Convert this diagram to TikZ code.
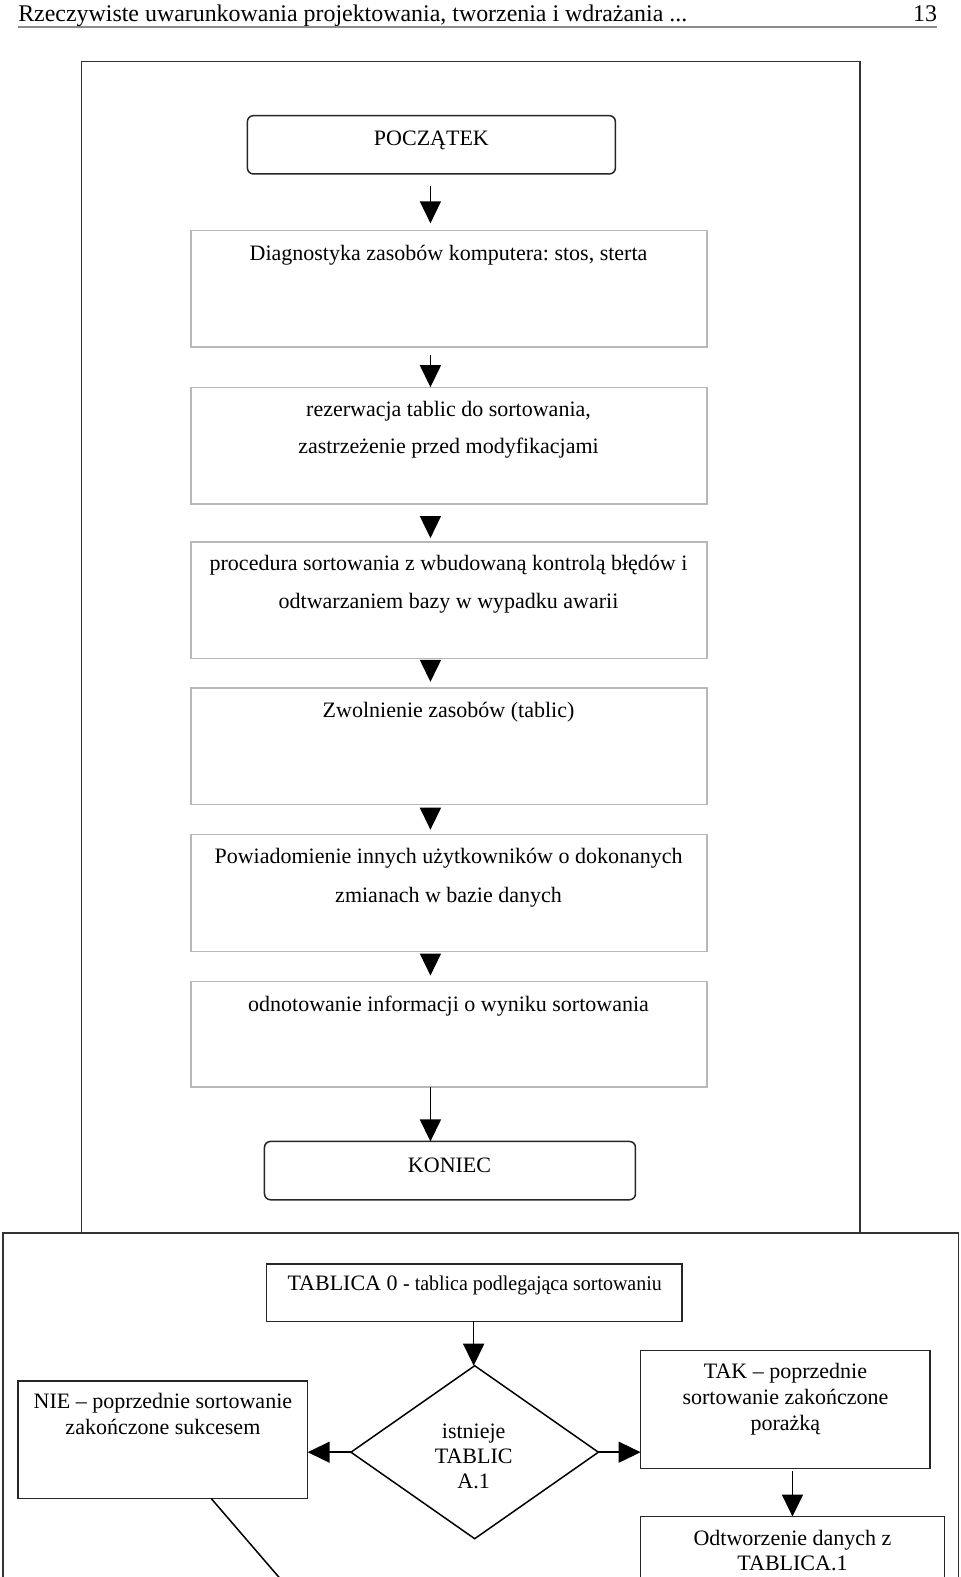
\documentclass[tikz,border=0pt]{standalone}
\usepackage{fontspec}
\setmainfont{Liberation Serif}
\usetikzlibrary{arrows.meta,shapes.geometric}
\frenchspacing
\begin{document}
\begin{tikzpicture}[x=1.0057bp,y=-1.0057bp,
  light/.style={draw=black!28, line width=1.3bp, inner sep=0pt, outer sep=0pt, anchor=north west},
  dark/.style={draw=black!85, line width=1.5bp, inner sep=0pt, outer sep=0pt, anchor=north west},
  roundbox/.style={dark, rounded corners=6bp},
  txt/.style={font=\fontsize{22bp}{26bp}\selectfont, inner sep=0pt, anchor=base},
  arr/.style={line width=1.5bp, -{Triangle[length=22bp,width=21bp]}},
  frame/.style={draw=black!80, line width=1.6bp},
]
\useasboundingbox (0,0) rectangle (954.6,1568.1);
\clip (0,0) rectangle (954.6,1568.1);
\fill[white] (0,0) rectangle (954.6,1568.1);
% header
\node[inner sep=0pt, anchor=base west, font=\fontsize{23.9bp}{27bp}\selectfont] (head) at (18,21) {Rzeczywiste uwarunkowania projektowania, tworzenia i wdrażania ...};
\node[inner sep=0pt, anchor=base east, font=\fontsize{23.9bp}{27bp}\selectfont] (pg) at (932,21) {13};
\draw[draw=black!45, line width=1.5bp] (18,27) -- (932,27);
% frames
\draw[frame] (81,1226) -- (81,61) -- (855,61) -- (855,1226);
\draw[frame] (3,1640) -- (3,1226) -- (953,1226) -- (953,1640);
% upper flow
\node[roundbox, minimum width=368bp, minimum height=58.3bp] (start) at (246,115) {};
\node[txt] (tstart) at (429,145) {POCZĄTEK};
\node[light, minimum width=516bp, minimum height=116.7bp] (b1) at (190,229) {};
\node[txt] (t1) at (446,259) {Diagnostyka zasobów komputera: stos, sterta};
\node[light, minimum width=516bp, minimum height=116.7bp] (b2) at (190,385) {};
\node[txt] (t2a) at (446,414) {rezerwacja tablic do sortowania,};
\node[txt] (t2b) at (446,451) {zastrzeżenie przed modyfikacjami};
\node[light, minimum width=516bp, minimum height=116.7bp] (b3) at (190,539) {};
\node[txt] (t3a) at (446,567) {procedura sortowania z wbudowaną kontrolą błędów i};
\node[txt] (t3b) at (446,605) {odtwarzaniem bazy w wypadku awarii};
\node[light, minimum width=516bp, minimum height=116.7bp] (b4) at (190,684) {};
\node[txt] (t4) at (446,713) {Zwolnienie zasobów (tablic)};
\node[light, minimum width=516bp, minimum height=116.7bp] (b5) at (190,830) {};
\node[txt] (t5a) at (446,859) {Powiadomienie innych użytkowników o dokonanych};
\node[txt] (t5b) at (446,897) {zmianach w bazie danych};
\node[light, minimum width=516bp, minimum height=105.6bp] (b6) at (190,976) {};
\node[txt] (t6) at (446,1006) {odnotowanie informacji o wyniku sortowania};
\node[roundbox, minimum width=371bp, minimum height=58.3bp] (stop) at (263,1135) {};
\node[txt] (tstop) at (447,1166) {KONIEC};
% upper arrows
\draw[arr, shorten >=7bp] ([yshift=-12bp]start.south -| 428,0) -- (b1.north -| 428,0);
\draw[arr] ([yshift=-8bp]b1.south -| 428,0) -- (b2.north -| 428,0);
\draw[arr, shorten >=4bp] ([yshift=-13bp]b2.south -| 428,0) -- (b3.north -| 428,0);
\draw[arr, shorten >=6bp] ([yshift=-2bp]b3.south -| 428,0) -- (b4.north -| 428,0);
\draw[arr, shorten >=5bp] ([yshift=-3bp]b4.south -| 428,0) -- (b5.north -| 428,0);
\draw[arr, shorten >=6bp] ([yshift=-4bp]b5.south -| 428,0) -- (b6.north -| 428,0);
\draw[arr] (b6.south -| 428,0) -- (stop.north -| 428,0);
% lower flow
\node[dark, minimum width=415.4bp, minimum height=57.3bp] (tab) at (265,1257) {};
\node[inner sep=0pt, anchor=base] (ttab) at (472,1283) {\fontsize{22bp}{26bp}\selectfont TABLICA 0 \scalebox{0.95}[1]{\fontsize{21bp}{25bp}\selectfont - tablica podlegająca sortowaniu}};
\node[diamond, draw=black, line width=1.5bp, inner sep=0pt, outer sep=0pt, minimum width=247.4bp, minimum height=173bp] (dec) at (472,1444) {};
\node[txt] (td1) at (471,1430) {istnieje};
\node[txt] (td2) at (471,1455) {TABLIC};
\node[txt] (td3) at (471,1480) {A.1};
\node[dark, minimum width=289.6bp, minimum height=117.7bp] (nie) at (18,1373) {};
\node[txt] (tn1) at (162,1401) {NIE – poprzednie sortowanie};
\node[txt] (tn2) at (162,1426) {zakończone sukcesem};
\node[dark, minimum width=289.6bp, minimum height=117.7bp] (tak) at (637,1343) {};
\node[txt] (tk1) at (781,1371) {TAK – poprzednie};
\node[txt] (tk2) at (781,1397) {sortowanie zakończone};
\node[txt] (tk3) at (781,1422) {porażką};
\node[dark, minimum width=303.7bp, minimum height=120.7bp] (odt) at (637,1508) {};
\node[txt] (to1) at (788,1537) {Odtworzenie danych z};
\node[txt] (to2) at (788,1562) {TABLICA.1};
\coordinate (diagend) at (290,1583);
% lower arrows
\draw[arr] (tab.south -| 471,0) -- (dec.north -| 471,0);
\draw[arr] (dec.west) -- (dec.west -| nie.east);
\draw[arr] (dec.east) -- (dec.east -| tak.west);
\draw[arr] ([yshift=-3bp]tak.south -| 788,0) -- (odt.north -| 788,0);
\draw[line width=1.5bp] (nie.south -| 210,0) -- (diagend);
\end{tikzpicture}
\end{document}
